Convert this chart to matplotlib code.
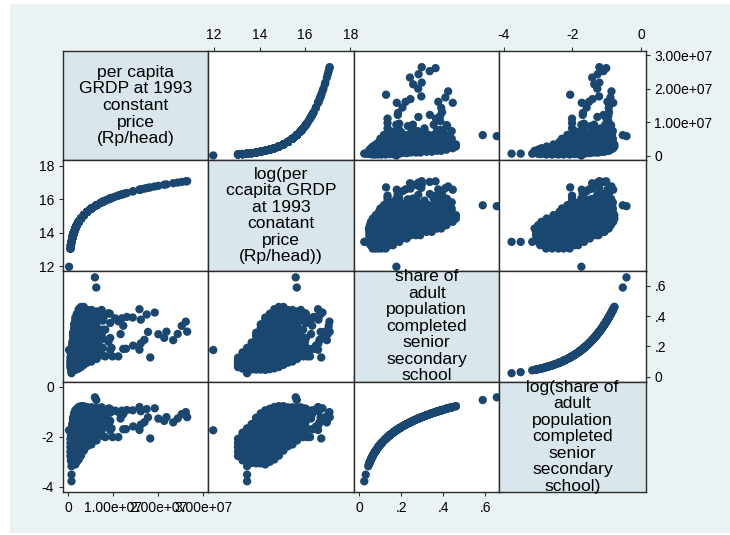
import numpy as np
import matplotlib
matplotlib.use("Agg")
import matplotlib.pyplot as plt
from matplotlib.patches import Rectangle

plt.rcParams['font.family'] = ['Liberation Sans', 'DejaVu Sans']

# ---------------- data ----------------
# dense cloud: columns of log(per capita GRDP) with the shares seen in each column
cloud_log_grdp = [13.05, 13.25, 13.45, 13.65, 13.85, 14.05, 14.25, 14.45,
                  14.65, 14.85, 15.05, 15.25, 15.45, 15.65, 15.85]
cloud_shares = [
    [0.063, 0.075, 0.09, 0.105, 0.125],
    [0.053, 0.063, 0.075, 0.09, 0.105, 0.125, 0.145, 0.16],
    [0.023, 0.03, 0.042, 0.05, 0.06, 0.072, 0.085, 0.1, 0.12, 0.14, 0.165, 0.19],
    [0.048, 0.057, 0.068, 0.08, 0.095, 0.11, 0.13, 0.15, 0.175, 0.2, 0.225],
    [0.047, 0.056, 0.066, 0.078, 0.092, 0.108, 0.127, 0.148, 0.17, 0.195, 0.22, 0.245, 0.27, 0.29],
    [0.047, 0.056, 0.066, 0.078, 0.092, 0.108, 0.127, 0.148, 0.17, 0.195, 0.22, 0.245, 0.27, 0.295, 0.32, 0.345],
    [0.045, 0.054, 0.064, 0.076, 0.09, 0.106, 0.125, 0.146, 0.17, 0.195, 0.22, 0.245, 0.27, 0.295, 0.32, 0.345, 0.37, 0.39],
    [0.05, 0.06, 0.071, 0.084, 0.1, 0.118, 0.138, 0.16, 0.185, 0.21, 0.235, 0.26, 0.285, 0.31, 0.335, 0.36, 0.385, 0.415],
    [0.055, 0.065, 0.077, 0.091, 0.107, 0.125, 0.145, 0.168, 0.192, 0.217, 0.242, 0.267, 0.292, 0.317, 0.342, 0.367, 0.392, 0.417, 0.445],
    [0.064, 0.076, 0.09, 0.106, 0.124, 0.144, 0.166, 0.19, 0.215, 0.24, 0.265, 0.29, 0.315, 0.34, 0.365, 0.39, 0.415, 0.44, 0.46],
    [0.078, 0.092, 0.108, 0.126, 0.146, 0.168, 0.192, 0.217, 0.242, 0.267, 0.292, 0.317, 0.342, 0.367, 0.392, 0.417, 0.44, 0.46],
    [0.093, 0.108, 0.125, 0.145, 0.167, 0.19, 0.215, 0.24, 0.265, 0.29, 0.315, 0.34, 0.365, 0.39, 0.415, 0.44],
    [0.1, 0.117, 0.136, 0.157, 0.18, 0.205, 0.23, 0.255, 0.28, 0.305, 0.33, 0.355, 0.38, 0.405, 0.43, 0.44],
    [0.117, 0.136, 0.157, 0.18, 0.205, 0.23, 0.255, 0.28, 0.305, 0.33, 0.355, 0.38, 0.405, 0.43],
    [0.14, 0.19, 0.25, 0.31, 0.37, 0.40],
]

# sparse points (GRDP in million Rp/head, share)
tail_grdp_m = [26.4, 26.1, 25.2, 24.3, 23.3, 21.8, 21.3, 20.0, 17.7,
               19.2, 17.4, 15.8, 16.1, 14.3, 13.0, 11.9, 10.4, 8.9, 7.4,
               16.9, 16.1, 14.4, 12.8, 12.2, 15.8, 18.2, 11.1, 9.8, 9.3, 11.6, 12.2, 8.9, 9.2,
               5.9, 6.2,
               7.8, 9.3, 11.1, 9.3, 9.6, 8.2, 7.4, 8.2, 7.0, 7.2,
               0.156]
tail_share = [0.297, 0.363, 0.335, 0.282, 0.241, 0.297, 0.256, 0.280, 0.295,
              0.423, 0.41, 0.445, 0.376, 0.39, 0.394, 0.385, 0.385, 0.418, 0.44,
              0.243, 0.22, 0.205, 0.184, 0.183, 0.178, 0.127, 0.134, 0.134, 0.176, 0.281, 0.336, 0.231, 0.416,
              0.655, 0.588,
              0.387, 0.354, 0.365, 0.255, 0.19, 0.134, 0.277, 0.31, 0.20, 0.16,
              0.176]

var_labels = [
    "per capita\nGRDP at 1993\nconstant\nprice\n(Rp/head)",
    "log(per\nccapita GRDP\nat 1993\nconatant\nprice\n(Rp/head))",
    "share of\nadult\npopulation\ncompleted\nsenior\nsecondary\nschool",
    "log(share of\nadult\npopulation\ncompleted\nsenior\nsecondary\nschool)",
]
grdp_ticks = [0, 1e7, 2e7, 3e7]
grdp_ticklabels = ["0", "1.00e+07", "2.00e+07", "3.00e+07"]
lgrdp_ticks = [12, 14, 16, 18]
lgrdp_ticklabels = ["12", "14", "16", "18"]
share_ticks = [0, 0.2, 0.4, 0.6]
share_ticklabels = ["0", ".2", ".4", ".6"]
lshare_ticks = [-4, -2, 0]
lshare_ticklabels = ["-4", "-2", "0"]

# ---------------- assemble variables ----------------
lg = []
sh = []
for g, ss in zip(cloud_log_grdp, cloud_shares):
    for s in ss:
        lg.append(g)
        sh.append(s)
log_grdp = np.array(lg + list(np.log(np.array(tail_grdp_m) * 1e6)))
share = np.array(sh + tail_share)
grdp = np.exp(log_grdp)
log_share = np.log(share)
variables = [grdp, log_grdp, share, log_share]

xlims = [(-0.126e7, 3.11e7), (11.74, 18.16), (-0.026, 0.667), (-4.13, 0.137)]
ylims = [(-0.128e7, 3.128e7), (11.72, 18.34), (-0.033, 0.699), (-4.2, 0.2)]
ticks = [(grdp_ticks, grdp_ticklabels), (lgrdp_ticks, lgrdp_ticklabels),
         (share_ticks, share_ticklabels), (lshare_ticks, lshare_ticklabels)]

# ---------------- figure ----------------
W, H = 730, 535
fig = plt.figure(figsize=(W / 100, H / 100), dpi=100, facecolor='white')
fig.patches.append(Rectangle((10 / W, 2 / H), 720 / W, (H - 6) / H,
                             transform=fig.transFigure, facecolor='#EAF2F3',
                             edgecolor='none', zorder=-10))

xs = [62.7, 208.3, 354.0, 499.3, 645.7]
ys = [50.7, 160.3, 270.7, 381.7, 492.0]
navy = '#1A476F'
diag_color = '#D9E6EB'
edge = '#2b2b2b'
tick_fs = 10

for i in range(4):
    for j in range(4):
        ax = fig.add_axes([xs[j] / W, 1 - ys[i + 1] / H,
                           (xs[j + 1] - xs[j]) / W, (ys[i + 1] - ys[i]) / H])
        ax.set_zorder(1)
        ax.set_xlim(xlims[j])
        ax.set_ylim(ylims[i])
        for sp in ax.spines.values():
            sp.set_color(edge)
            sp.set_linewidth(1.0)
        ax.tick_params(which='both', bottom=False, top=False, left=False, right=False,
                       labelbottom=False, labeltop=False, labelleft=False, labelright=False,
                       direction='out', length=3.2, width=0.8, color='#333333',
                       labelsize=tick_fs, pad=3)
        if i == j:
            ax.set_facecolor(diag_color)
            cx = (xs[j] + xs[j + 1]) / 2 / W
            cy = 1 - (ys[i] + ys[i + 1]) / 2 / H
            fig.text(cx, cy, var_labels[i], ha='center', va='center',
                     fontsize=12.6, linespacing=1.13, color='black', zorder=5)
        else:
            ax.set_facecolor('white')
            ax.scatter(variables[j], variables[i], s=36, c=navy,
                       edgecolors='none', zorder=2)
        tv, tl = ticks[j]
        ax.set_xticks(tv, tl)
        tv, tl = ticks[i]
        ax.set_yticks(tv, tl)
        if i == 0 and j in (1, 3):
            ax.tick_params(top=True, labeltop=True)
        if i == 3 and j in (0, 2):
            ax.tick_params(bottom=True, labelbottom=True)
        if j == 0 and i in (1, 3):
            ax.tick_params(left=True, labelleft=True)
        if j == 3 and i in (0, 2):
            ax.tick_params(right=True, labelright=True)

fig.savefig('out.png', dpi=100, facecolor=fig.get_facecolor())
